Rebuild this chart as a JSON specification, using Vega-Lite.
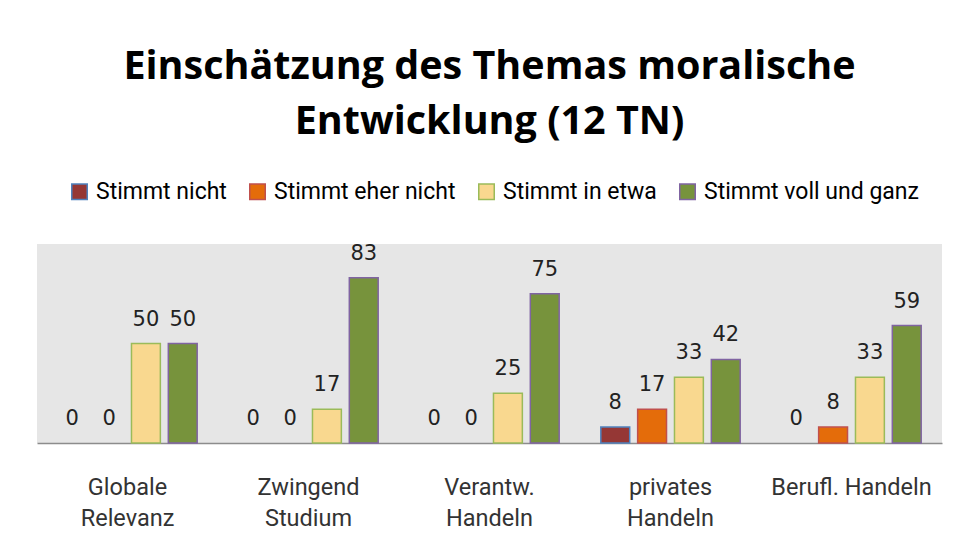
{
  "$schema": "https://vega.github.io/schema/vega-lite/v6.json",
  "width": 905,
  "height": 199,
  "padding": {"left": 37, "top": 46, "right": 16, "bottom": 10},
  "background": "white",
  "title": {
    "text": ["Einschätzung des Themas moralische", "Entwicklung (12 TN)"],
    "fontSize": 39.5,
    "font": "Open Sans",
    "fontWeight": "bold",
    "color": "#000000",
    "lineHeight": 55,
    "anchor": "middle",
    "offset": 38
  },
  "data": {
    "values": [
      {"cat": "Globale|Relevanz", "series": "Stimmt nicht", "value": 0},
      {"cat": "Globale|Relevanz", "series": "Stimmt eher nicht", "value": 0},
      {"cat": "Globale|Relevanz", "series": "Stimmt in etwa", "value": 50},
      {"cat": "Globale|Relevanz", "series": "Stimmt voll und ganz", "value": 50},
      {"cat": "Zwingend|Studium", "series": "Stimmt nicht", "value": 0},
      {"cat": "Zwingend|Studium", "series": "Stimmt eher nicht", "value": 0},
      {"cat": "Zwingend|Studium", "series": "Stimmt in etwa", "value": 17},
      {"cat": "Zwingend|Studium", "series": "Stimmt voll und ganz", "value": 83},
      {"cat": "Verantw.|Handeln", "series": "Stimmt nicht", "value": 0},
      {"cat": "Verantw.|Handeln", "series": "Stimmt eher nicht", "value": 0},
      {"cat": "Verantw.|Handeln", "series": "Stimmt in etwa", "value": 25},
      {"cat": "Verantw.|Handeln", "series": "Stimmt voll und ganz", "value": 75},
      {"cat": "privates|Handeln", "series": "Stimmt nicht", "value": 8},
      {"cat": "privates|Handeln", "series": "Stimmt eher nicht", "value": 17},
      {"cat": "privates|Handeln", "series": "Stimmt in etwa", "value": 33},
      {"cat": "privates|Handeln", "series": "Stimmt voll und ganz", "value": 42},
      {"cat": "Berufl. Handeln", "series": "Stimmt nicht", "value": 0},
      {"cat": "Berufl. Handeln", "series": "Stimmt eher nicht", "value": 8},
      {"cat": "Berufl. Handeln", "series": "Stimmt in etwa", "value": 33},
      {"cat": "Berufl. Handeln", "series": "Stimmt voll und ganz", "value": 59}
    ]
  },
  "encoding": {
    "x": {
      "field": "cat",
      "type": "nominal",
      "sort": null,
      "scale": {"paddingInner": 0.23, "paddingOuter": 0.115},
      "axis": {
        "title": null,
        "labelAngle": 0,
        "labelExpr": "split(datum.label, '|')",
        "labelFont": "Roboto",
        "labelFontSize": 23.5,
        "labelColor": "#333333",
        "labelLineHeight": 31,
        "labelPadding": 32,
        "labelBaseline": "top",
        "labelLimit": 0,
        "ticks": false,
        "domainColor": "#8c8c8c",
        "domainWidth": 1.5,
        "grid": false
      }
    },
    "xOffset": {
      "field": "series",
      "type": "nominal",
      "sort": ["Stimmt nicht", "Stimmt eher nicht", "Stimmt in etwa", "Stimmt voll und ganz"],
      "scale": {"paddingInner": 0.216, "paddingOuter": 0}
    },
    "y": {
      "field": "value",
      "type": "quantitative",
      "scale": {"domain": [0, 100], "nice": false},
      "axis": null
    }
  },
  "layer": [
    {
      "transform": [{"filter": "datum.value > 0"}],
      "mark": {"type": "bar", "strokeWidth": 1.5},
      "encoding": {
        "color": {
          "field": "series",
          "type": "nominal",
          "sort": ["Stimmt nicht", "Stimmt eher nicht", "Stimmt in etwa", "Stimmt voll und ganz"],
          "scale": {
            "domain": ["Stimmt nicht", "Stimmt eher nicht", "Stimmt in etwa", "Stimmt voll und ganz"],
            "range": ["#953735", "#E46C0A", "#F9D88F", "#77933C"]
          },
          "legend": {
            "orient": "none",
            "legendX": 31,
            "legendY": -64,
            "direction": "horizontal",
            "title": null,
            "labelFont": "Roboto",
            "labelFontSize": 23,
            "labelColor": "#000000",
            "labelLimit": 0,
            "symbolType": "square",
            "symbolSize": 240,
            "symbolStrokeWidth": 1.5,
            "columnPadding": 19,
            "labelOffset": 5
          }
        },
        "stroke": {
          "field": "series",
          "type": "nominal",
          "sort": ["Stimmt nicht", "Stimmt eher nicht", "Stimmt in etwa", "Stimmt voll und ganz"],
          "scale": {
            "domain": ["Stimmt nicht", "Stimmt eher nicht", "Stimmt in etwa", "Stimmt voll und ganz"],
            "range": ["#4F81BD", "#C0504D", "#9BBB59", "#8064A2"]
          }
        }
      }
    },
    {
      "mark": {
        "type": "text",
        "font": "DejaVu Sans",
        "fontSize": 21,
        "color": "#222222",
        "baseline": "alphabetic",
        "dy": -18
      },
      "encoding": {
        "text": {"field": "value", "type": "quantitative"}
      }
    }
  ],
  "config": {
    "view": {"fill": "#E6E6E6", "stroke": null}
  }
}
